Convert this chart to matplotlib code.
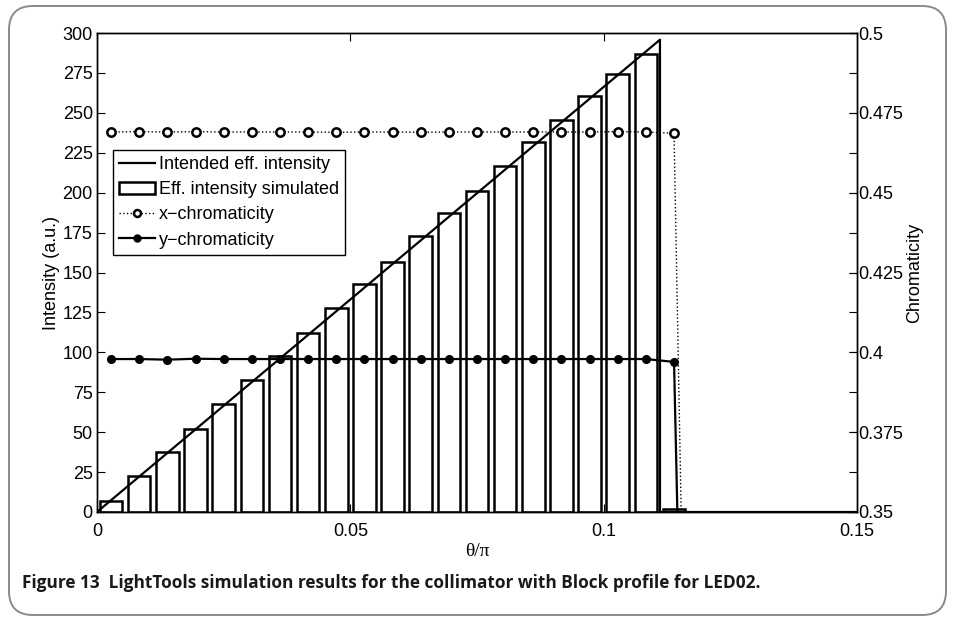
import matplotlib.pyplot as plt
from matplotlib.patches import FancyBboxPatch, Patch
from matplotlib.lines import Line2D
import numpy as np

# bins of 1 degree, expressed as theta/pi
bin_index = np.arange(27)
theta = (bin_index + 0.5) / 180.0

# simulated effective intensity per bin (a.u.)
sim_intensity = [6.9, 22.6, 37.6, 51.9, 67.9, 82.6, 97.8, 111.9, 128.0, 142.6,
                 156.8, 172.9, 187.5, 201.1, 216.4, 231.7, 245.2, 260.3, 274.5, 286.8,
                 2.0, 0, 0, 0, 0, 0, 0]

# intended effective intensity (linear ramp, then cut off)
intended_x = [0, 1 / 9, 1 / 9, 0.15]
intended_y = [0, 295.8, 0, 0]

x_chrom = [0.4690, 0.4691, 0.4690, 0.4691, 0.4690, 0.4690, 0.4690, 0.4690, 0.4689, 0.4690,
           0.4690, 0.4689, 0.4690, 0.4690, 0.4690, 0.4690, 0.4690, 0.4690, 0.4691, 0.4690,
           0.4686, 0, 0, 0, 0, 0, 0]
y_chrom = [0.3979, 0.3979, 0.3977, 0.3980, 0.3979, 0.3979, 0.3979, 0.3979, 0.3979, 0.3979,
           0.3979, 0.3979, 0.3979, 0.3979, 0.3979, 0.3979, 0.3979, 0.3979, 0.3979, 0.3979,
           0.3970, 0, 0, 0, 0, 0, 0]

plt.rcParams['font.family'] = ['Liberation Sans', 'DejaVu Sans']
fs = 13

fig = plt.figure(figsize=(9.55, 6.21), dpi=100)

# rounded frame around the whole figure
frame = FancyBboxPatch((9 / 955, 6 / 621), 937 / 955, 609 / 621,
                       boxstyle="round,pad=0,rounding_size=0.025",
                       transform=fig.transFigure, facecolor='none',
                       edgecolor='#8a8a8a', linewidth=1.4, mutation_aspect=955 / 621)
fig.patches.append(frame)

ax = fig.add_axes([97 / 955, 1 - 512 / 621, 760 / 955, 479 / 621])

ax.bar(theta, sim_intensity, width=0.8 / 180, facecolor='white',
       edgecolor='black', linewidth=1.8, zorder=2)
ax.plot(intended_x, intended_y, color='black', linewidth=1.6, zorder=3)

ax.set_xlim(0, 0.15)
ax.set_ylim(0, 300)
ax.set_xticks([0, 0.05, 0.1, 0.15])
ax.set_xticklabels(['0', '0.05', '0.1', '0.15'])
ax.set_yticks(np.arange(0, 301, 25))
ax.set_ylabel('Intensity (a.u.)', fontsize=fs, labelpad=2)
ax.set_xlabel('θ/π', fontsize=14, family=['Liberation Serif', 'DejaVu Serif'], labelpad=2)

ax2 = ax.twinx()
ax2.plot(theta, x_chrom, linestyle=':', color='black', linewidth=1.0, marker='o',
         markersize=6, markerfacecolor='white', markeredgecolor='black',
         markeredgewidth=1.8, zorder=4)
ax2.plot(theta, y_chrom, linestyle='-', color='black', linewidth=1.6, marker='o',
         markersize=5.5, markerfacecolor='black', zorder=4)
ax2.set_ylim(0.35, 0.5)
ax2.set_yticks([0.35, 0.375, 0.4, 0.425, 0.45, 0.475, 0.5])
ax2.set_yticklabels(['0.35', '0.375', '0.4', '0.425', '0.45', '0.475', '0.5'])
ax2.set_ylabel('Chromaticity', fontsize=fs, labelpad=2)

ax.tick_params(direction='in', top=True, right=True, labelright=False,
               length=6, width=0.8, labelsize=fs, pad=3)
ax.tick_params(axis='x', pad=8)
ax2.tick_params(direction='in', length=6, width=0.8, labelsize=fs, pad=1)
for a in (ax, ax2):
    for s in a.spines.values():
        s.set_linewidth(1.0)

handles = [
    Line2D([], [], color='black', linewidth=1.6),
    Patch(facecolor='white', edgecolor='black', linewidth=1.8),
    Line2D([], [], linestyle=':', color='black', linewidth=1.0, marker='o', markersize=5,
           markerfacecolor='white', markeredgecolor='black', markeredgewidth=1.8),
    Line2D([], [], linestyle='-', color='black', linewidth=1.6, marker='o', markersize=5,
           markerfacecolor='black'),
]
labels = ['Intended eff. intensity', 'Eff. intensity simulated',
          'x\u2212chromaticity', 'y\u2212chromaticity']
leg = ax2.legend(handles, labels, loc='upper left', bbox_to_anchor=(0.021, 0.756),
                 borderaxespad=0, fontsize=fs, frameon=True, fancybox=False,
                 edgecolor='black', framealpha=1, handlelength=2.0, handletextpad=0.2,
                 labelspacing=0.45, borderpad=0.35)
leg.get_frame().set_linewidth(1.0)

fig.text(22 / 955, 1 - 583 / 621,
         'Figure 13  LightTools simulation results for the collimator with Block profile for LED02.',
         fontsize=12.4, fontweight='bold', family=['Open Sans', 'DejaVu Sans'],
         color='#1a1a1a', va='center', ha='left')

fig.savefig('out.png', dpi=100)
